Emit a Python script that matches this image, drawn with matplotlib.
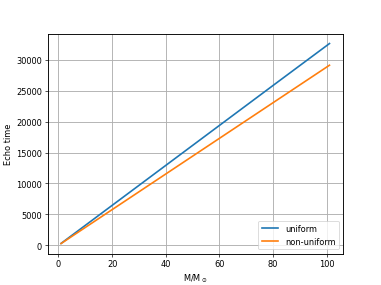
import numpy as np
import matplotlib
matplotlib.use("Agg")
import matplotlib.pyplot as plt

# mass in solar masses
masses = [1, 21, 41, 61, 81, 101]
# echo times
echo_uniform = [320, 6780, 13240, 19700, 26160, 32600]
echo_nonuniform = [300, 6060, 11820, 17580, 23340, 29100]

fig, ax = plt.subplots(figsize=(6.4, 4.8), dpi=381 / 6.4)
ax.plot(masses, echo_uniform, label="uniform", lw=2)
ax.plot(masses, echo_nonuniform, label="non-uniform", lw=2)
ax.set_xlabel(r"M/M$_\odot$")
ax.set_ylabel("Echo time")
ax.grid(True, lw=1.1)
for s in ax.spines.values():
    s.set_linewidth(1.1)
ax.legend(loc="lower right")

fig.savefig("out.png", dpi=381 / 6.4)
